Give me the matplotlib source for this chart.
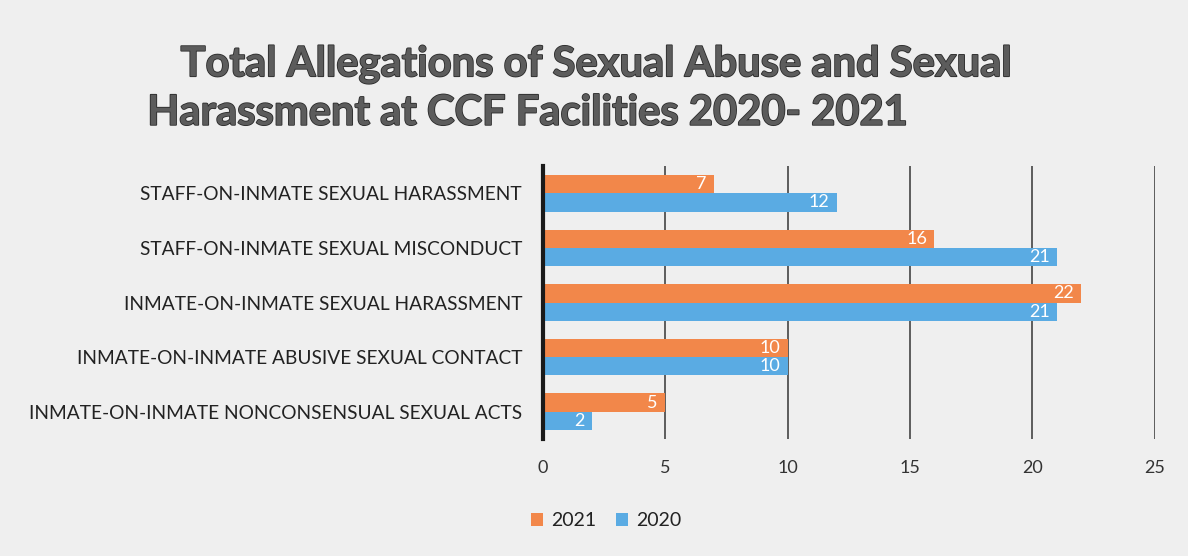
import matplotlib.pyplot as plt
import matplotlib.patheffects as pe
import numpy as np

categories = [
    "STAFF-ON-INMATE SEXUAL HARASSMENT",
    "STAFF-ON-INMATE SEXUAL MISCONDUCT",
    "INMATE-ON-INMATE SEXUAL HARASSMENT",
    "INMATE-ON-INMATE ABUSIVE SEXUAL CONTACT",
    "INMATE-ON-INMATE NONCONSENSUAL SEXUAL ACTS",
]
values_2021 = [7, 16, 22, 10, 5]
values_2020 = [12, 21, 21, 10, 2]
x_ticks = [0, 5, 10, 15, 20, 25]

ORANGE = "#F2874A"
BLUE = "#5AABE3"
BG = "#EFEFEF"

plt.rcParams["font.family"] = ["Lato", "DejaVu Sans"]

fig = plt.figure(figsize=(11.88, 5.56), dpi=100, facecolor=BG)
ax = fig.add_axes([0.457, 0.2104, 0.515, 0.491], facecolor=BG)

y = np.arange(len(categories))
h = 0.335
bars21 = ax.barh(y - h / 2, values_2021, height=h, color=ORANGE, label="2021", zorder=3)
bars20 = ax.barh(y + h / 2, values_2020, height=h, color=BLUE, label="2020", zorder=3)

for bars in (bars21, bars20):
    for b in bars:
        w = b.get_width()
        ax.text(w - 0.3, b.get_y() + b.get_height() / 2, f"{w:g}", ha="right", va="center",
                color="white", fontsize=13, zorder=4)

ax.set_ylim(len(categories) - 0.5, -0.5)
ax.set_xlim(0, 25)
ax.set_xticks(x_ticks)
ax.set_yticks(y)
ax.set_yticklabels(categories, fontsize=13.8, color="#222222")
ax.tick_params(axis="x", length=0, pad=15, labelsize=13, labelcolor="#333333")
ax.tick_params(axis="y", length=0, pad=15)

ax.grid(axis="x", color="#444444", linewidth=1.2, zorder=1)
for s in ("top", "right", "bottom"):
    ax.spines[s].set_visible(False)
ax.spines["left"].set_color("#1a1a1a")
ax.spines["left"].set_linewidth(3)
ax.spines["left"].set_zorder(5)

leg = fig.legend(handles=[bars21, bars20], loc="center", bbox_to_anchor=(0.51, 0.063), ncol=2,
                 frameon=False, fontsize=14, handlelength=0.65, handleheight=0.65,
                 handletextpad=0.4, columnspacing=1.0)
for t in leg.get_texts():
    t.set_color("#222222")

title_style = dict(fontsize=30, fontweight="bold", color="#5c5c5c", va="center",
                   path_effects=[pe.withStroke(linewidth=1.2, foreground="#2a2a2a")])
fig.text(0.152, 0.884, "Total Allegations of Sexual Abuse and Sexual", ha="left", **title_style)
fig.text(0.124, 0.797, "Harassment at CCF Facilities 2020- 2021", ha="left", **title_style)

fig.savefig("out.png", dpi=100, facecolor=BG)
